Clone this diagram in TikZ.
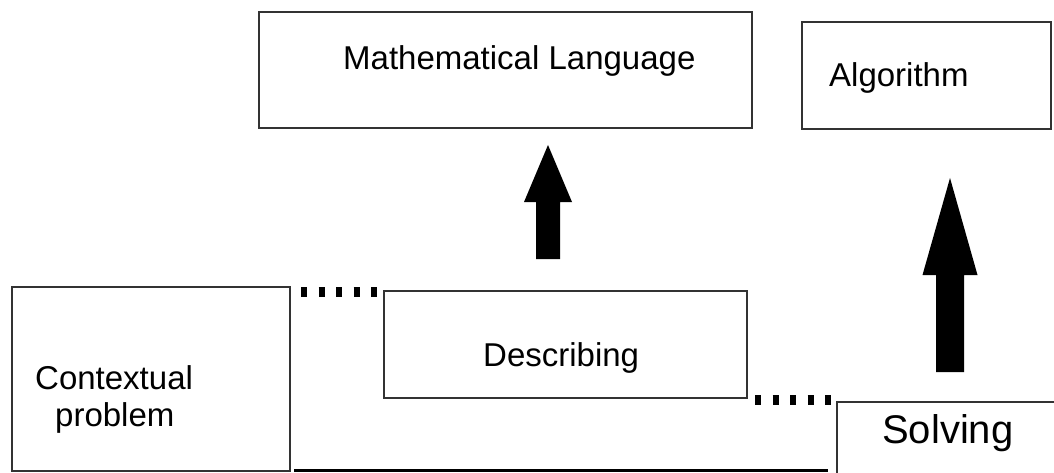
\documentclass[tikz,border=0pt]{standalone}
\usepackage{fontspec}
\setmainfont{Liberation Sans}
\begin{document}
\begin{tikzpicture}[x=1pt,y=-1pt,
  box/.style={draw=black!80, line width=1.3pt, inner sep=0pt, outer sep=0pt, anchor=north west},
  lbl/.style={anchor=base west, inner sep=0pt, font=\fontsize{33}{37}\selectfont},
  dots/.style={line width=10pt, dash pattern=on 6pt off 11.5pt},
  bigarrow/.style={fill=black}]
\useasboundingbox (0,0) rectangle (1054,473);
\clip (0,0) rectangle (1054,473);
% boxes
\node[box, minimum width=493pt, minimum height=116pt] (math) at (259,12) {};
\node[box, minimum width=249pt, minimum height=107pt] (algo) at (802,22) {};
\node[box, minimum width=278pt, minimum height=184pt] (ctx) at (12,287) {};
\node[box, minimum width=363pt, minimum height=107pt] (desc) at (384,291) {};
\node[box, minimum width=240pt, minimum height=100pt] (solv) at (837,402) {};
% labels
\node[lbl] (tmath) at (343,70) {Mathematical Language};
\node[lbl] (talgo) at (829,87) {Algorithm};
\node[lbl] (tdesc) at (483,366) {Describing};
\node[lbl] (tctx1) at (35,389) {Contextual};
\node[lbl] (tctx2) at (55,426) {problem};
\node[lbl, font=\fontsize{40}{44}\selectfont] (tsolv) at (882,443) {Solving};
% dotted links
\coordinate (d1s) at (301,292);
\coordinate (d1e) at (378,292);
\draw[dots] (d1s) -- (d1e);
\coordinate (d2s) at (755,400);
\coordinate (d2e) at (833,400);
\draw[dots] (d2s) -- (d2e);
% bottom line
\coordinate (bl1) at (294,470);
\coordinate (bl2) at (828,470);
\draw[line width=3pt] (bl1) -- (bl2);
% arrows
\fill[bigarrow] (548,145) -- (572,202) -- (560,202) -- (560,259) -- (536,259) -- (536,202) -- (524,202) -- cycle;
\fill[bigarrow] (950,178) -- (977.5,275) -- (964,275) -- (964,372) -- (936,372) -- (936,275) -- (922.5,275) -- cycle;
\end{tikzpicture}
\end{document}
